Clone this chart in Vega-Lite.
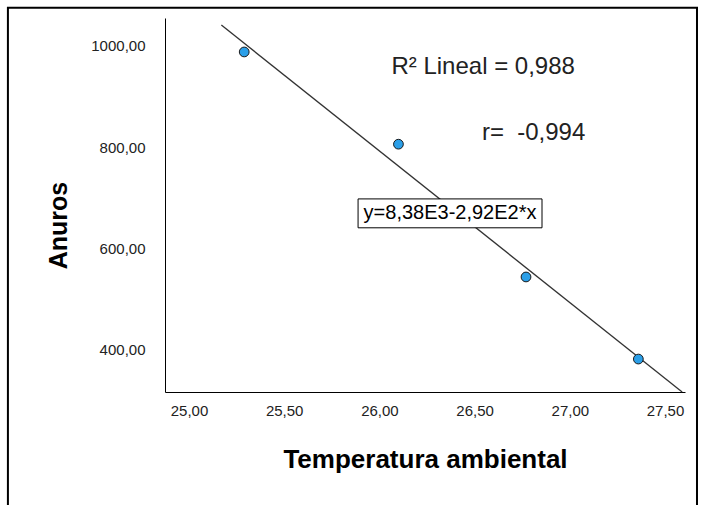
{
  "$schema": "https://vega.github.io/schema/vega-lite/v6.json",
  "width": 520,
  "height": 374,
  "autosize": {"type": "none"},
  "padding": {"left": 165, "top": 18, "right": 26, "bottom": 113},
  "background": "white",
  "config": {
    "view": {"stroke": null},
    "font": "Liberation Sans",
    "axis": {
      "grid": false,
      "ticks": false,
      "domainColor": "#000000",
      "domainWidth": 1,
      "labelFont": "Liberation Sans",
      "labelFontSize": 15,
      "labelColor": "#222222",
      "titleFont": "Liberation Sans",
      "titleFontWeight": "bold",
      "titleColor": "#000000"
    }
  },
  "datasets": {
    "points": [
      {"temp": 25.29, "anuros": 988},
      {"temp": 26.10, "anuros": 806},
      {"temp": 26.77, "anuros": 544},
      {"temp": 27.36, "anuros": 382}
    ],
    "fit": [
      {"temp": 25.17, "anuros": 1041},
      {"temp": 27.59, "anuros": 317}
    ],
    "labels": [
      {"temp": 26.545, "anuros": 958, "text": "R² Lineal = 0,988"},
      {"temp": 26.81, "anuros": 828, "text": "r=\u00a0 -0,994"}
    ],
    "eq": [
      {"x1": 25.888, "x2": 26.854, "y1": 698, "y2": 641, "xm": 26.371, "ym": 669.5, "text": "y=8,38E3-2,92E2*x"}
    ]
  },
  "layer": [
    {
      "data": {"values": [{}]},
      "mark": {"type": "rect", "fill": null, "stroke": "#000000", "strokeWidth": 2, "clip": false},
      "encoding": {
        "x": {"datum": 24.049, "type": "quantitative", "scale": {"domain": [24.874, 27.605], "nice": false, "zero": false}},
        "x2": {"datum": 27.668},
        "y": {"datum": 1075, "type": "quantitative", "scale": {"domain": [317, 1055], "nice": false, "zero": false}},
        "y2": {"datum": 60}
      }
    },
    {
      "data": {"name": "fit"},
      "mark": {"type": "line", "color": "#333333", "strokeWidth": 1.3, "clip": false},
      "encoding": {
        "x": {"field": "temp", "type": "quantitative"},
        "y": {"field": "anuros", "type": "quantitative"}
      }
    },
    {
      "data": {"name": "points"},
      "mark": {"type": "point", "filled": true, "fill": "#2b9fe8", "stroke": "#1a1a1a", "strokeWidth": 1, "size": 95, "opacity": 1},
      "encoding": {
        "x": {
          "field": "temp", "type": "quantitative",
          "axis": {
            "title": "Temperatura ambiental",
            "titleFontSize": 26,
            "titlePadding": 28,
            "labelPadding": 11,
            "values": [25, 25.5, 26, 26.5, 27, 27.5],
            "labelExpr": "replace(format(datum.value, '.2f'), '.', ',')"
          }
        },
        "y": {
          "field": "anuros", "type": "quantitative",
          "axis": {
            "title": "Anuros",
            "titleFontSize": 25,
            "titlePadding": 19,
            "titleY": 207,
            "labelPadding": 20,
            "values": [400, 600, 800, 1000],
            "labelExpr": "replace(format(datum.value, '.2f'), '.', ',')"
          }
        }
      }
    },
    {
      "data": {"name": "eq"},
      "mark": {"type": "rect", "fill": "white", "stroke": "#000000", "strokeWidth": 1},
      "encoding": {
        "x": {"field": "x1", "type": "quantitative"},
        "x2": {"field": "x2"},
        "y": {"field": "y1", "type": "quantitative"},
        "y2": {"field": "y2"}
      }
    },
    {
      "data": {"name": "eq"},
      "mark": {"type": "text", "fontSize": 20, "font": "Liberation Sans", "color": "#000000", "align": "center", "baseline": "middle"},
      "encoding": {
        "x": {"field": "xm", "type": "quantitative"},
        "y": {"field": "ym", "type": "quantitative"},
        "text": {"field": "text"}
      }
    },
    {
      "data": {"name": "labels"},
      "mark": {"type": "text", "fontSize": 24, "font": "Liberation Sans", "color": "#222222", "align": "center", "baseline": "middle"},
      "encoding": {
        "x": {"field": "temp", "type": "quantitative"},
        "y": {"field": "anuros", "type": "quantitative"},
        "text": {"field": "text"}
      }
    }
  ]
}
